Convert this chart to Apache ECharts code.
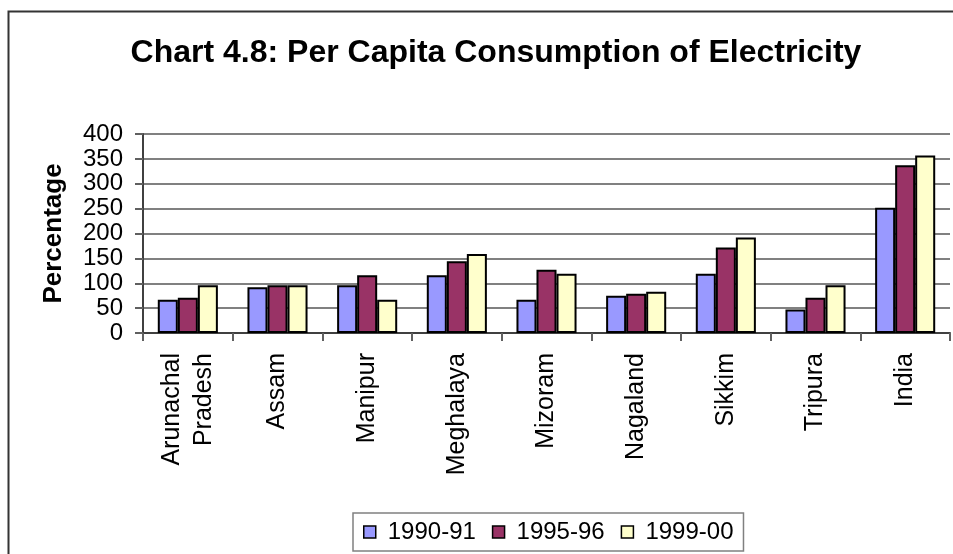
<!DOCTYPE html>
<html>
<head>
<meta charset="utf-8">
<title>Per Capita Consumption of Electricity</title>
<script src="https://cdn.jsdelivr.net/npm/echarts@6/dist/echarts.min.js"></script>
<style>
  html, body { margin: 0; padding: 0; background: #ffffff; }
  #chart { width: 953px; height: 554px; }
</style>
</head>
<body>
<div id="chart"></div>
<script>
// States of the North-East region plus the all-India figure
const categories = ['Arunachal\nPradesh', 'Assam', 'Manipur', 'Meghalaya', 'Mizoram', 'Nagaland', 'Sikkim', 'Tripura', 'India'];

// Per capita consumption for each period
const seriesNames = ['1990-91', '1995-96', '1999-00'];
const values1990 = [67, 92, 96, 116, 67, 75, 119, 47, 252];
const values1995 = [71, 96, 116, 144, 127, 79, 172, 71, 337];
const values1999 = [96, 96, 67, 159, 119, 83, 192, 96, 357];

const yTicks = { min: 0, max: 400, interval: 50 };

const colors = ['#9999FF', '#993366', '#FFFFCC'];
const FONT = '"Liberation Sans", Arial, sans-serif';

const chart = echarts.init(document.getElementById('chart'), null, { renderer: 'canvas' });

function barSeries(name, data, color) {
  return {
    name: name,
    type: 'bar',
    data: data,
    barGap: '0%',
    barCategoryGap: '33%',
    itemStyle: { color: color, borderColor: '#000000', borderWidth: 2 },
    emphasis: { disabled: true },
    animation: false
  };
}

chart.setOption({
  backgroundColor: '#ffffff',
  animation: false,
  title: {
    text: 'Chart 4.8: Per Capita Consumption of Electricity',
    left: 491,
    textAlign: 'center',
    top: 32,
    textStyle: { fontFamily: FONT, fontSize: 32, fontWeight: 'bold', color: '#000000' }
  },
  graphic: [{
    type: 'rect',
    shape: { x: 8.5, y: 11.5, width: 1200, height: 1200 },
    style: { fill: 'none', stroke: '#333333', lineWidth: 2 },
    silent: true,
    z: -1
  }],
  legend: {
    data: seriesNames,
    left: 353,
    top: 513,
    orient: 'horizontal',
    padding: [7, 10, 7, 10],
    itemGap: 16,
    itemWidth: 12,
    itemHeight: 12,
    icon: 'rect',
    borderColor: '#808080',
    borderWidth: 1.5,
    backgroundColor: '#ffffff',
    itemStyle: { borderColor: '#000000', borderWidth: 1.5 },
    textStyle: { fontFamily: FONT, fontSize: 24, color: '#000000', padding: [0, 0, 0, 7] }
  },
  grid: {
    left: 143,
    right: 3,
    top: 134,
    bottom: 221,
    containLabel: false
  },
  xAxis: {
    type: 'category',
    data: categories,
    boundaryGap: true,
    axisLine: { show: true, lineStyle: { color: '#404040', width: 2 } },
    axisTick: { show: true, alignWithLabel: false, length: 8, lineStyle: { color: '#606060', width: 2 } },
    axisLabel: {
      rotate: 90,
      margin: 20,
      interval: 0,
      fontFamily: FONT,
      fontSize: 25,
      lineHeight: 32,
      color: '#000000'
    }
  },
  yAxis: {
    type: 'value',
    min: yTicks.min,
    max: yTicks.max,
    interval: yTicks.interval,
    name: 'Percentage',
    nameLocation: 'middle',
    nameRotate: 90,
    nameGap: 76,
    nameTextStyle: { fontFamily: FONT, fontSize: 26, fontWeight: 'bold', color: '#000000' },
    axisLine: { show: true, lineStyle: { color: '#404040', width: 2 } },
    axisTick: { show: true, inside: false, length: 8, lineStyle: { color: '#606060', width: 2 } },
    axisLabel: { margin: 20, fontFamily: FONT, fontSize: 24, color: '#000000' },
    splitLine: { show: true, lineStyle: { color: '#808080', width: 2 } }
  },
  series: [
    barSeries(seriesNames[0], values1990, colors[0]),
    barSeries(seriesNames[1], values1995, colors[1]),
    barSeries(seriesNames[2], values1999, colors[2])
  ]
});
</script>
</body>
</html>
